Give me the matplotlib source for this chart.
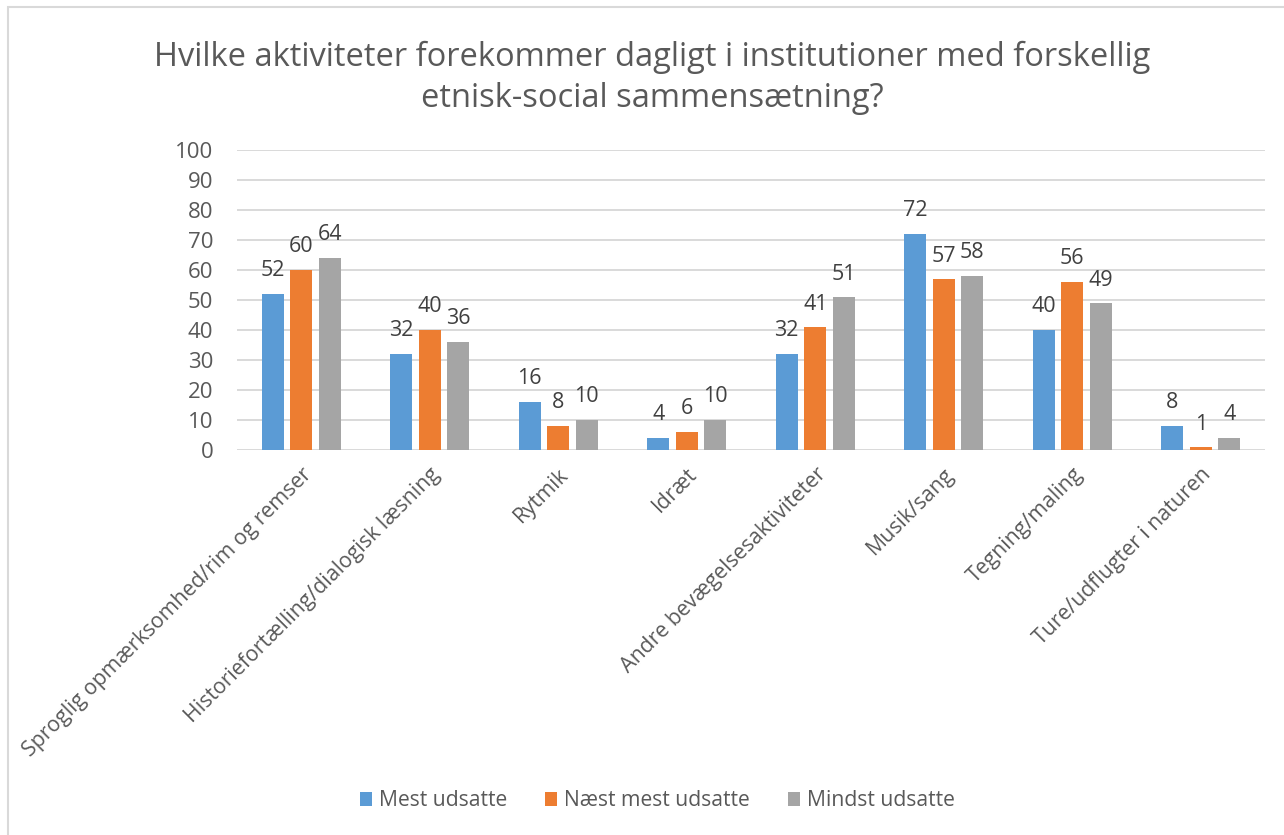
import matplotlib
matplotlib.use("Agg")
import matplotlib.pyplot as plt
import numpy as np
from matplotlib.patches import Rectangle

categories = ["Sproglig opmærksomhed/rim og remser", "Historiefortælling/dialogisk læsning",
              "Rytmik", "Idræt", "Andre bevægelsesaktiviteter", "Musik/sang",
              "Tegning/maling", "Ture/udflugter i naturen"]
series_names = ["Mest udsatte", "Næst mest udsatte", "Mindst udsatte"]
mest = [52, 32, 16, 4, 32, 72, 40, 8]
naest = [60, 40, 8, 6, 41, 57, 56, 1]
mindst = [64, 36, 10, 10, 51, 58, 49, 4]
colors = ["#5B9BD5", "#ED7D31", "#A5A5A5"]
yticks = list(range(0, 101, 10))

plt.rcParams['font.family'] = ['Open Sans', 'DejaVu Sans']
W, H = 1284, 835
fig = plt.figure(figsize=(W / 100, H / 100), dpi=100)
ax = fig.add_axes([237 / W, 1 - 450 / H, (1265 - 237) / W, 300 / H])

x = np.arange(len(categories))
width = 0.172
step = 0.222
txtc = "#595959"
for i, (vals, name, c) in enumerate(zip([mest, naest, mindst], series_names, colors)):
    pos = x + (i - 1) * step
    ax.bar(pos, vals, width=width, color=c, label=name, zorder=3)
    for xi, v in zip(pos, vals):
        ax.annotate(str(v), (xi, v), xytext=(0, 9), textcoords="offset points",
                    ha="center", va="bottom", fontsize=15.5, color="#404040")

ax.set_xlim(-0.5, len(categories) - 0.5)
ax.set_ylim(0, 100)
ax.set_yticks(yticks)
ax.yaxis.grid(True, color="#D9D9D9", linewidth=1.4, zorder=0)
for s in ax.spines.values():
    s.set_visible(False)
ax.tick_params(axis="y", length=0, pad=17, labelsize=16, labelcolor=txtc)
ax.tick_params(axis="x", length=0, pad=10, labelsize=15.3, labelcolor=txtc)
ax.set_xticks(x)
ax.set_xticklabels(categories, rotation=45, ha="right", rotation_mode="anchor")

fig.text(652 / W, 1 - 78 / H, "Hvilke aktiviteter forekommer dagligt i institutioner med forskellig\netnisk-social sammensætning?",
         ha="center", va="center", fontsize=23.5, color=txtc, linespacing=1.35)

fig.legend(loc="center", bbox_to_anchor=(657 / W, 1 - 801 / H), ncol=3, frameon=False,
           fontsize=15.2, labelcolor=txtc, handlelength=0.6, handleheight=0.6,
           handletextpad=0.3, columnspacing=1.8)

fig.patches.append(Rectangle((8 / W, -0.01), 1.1, 1 - 7 / H + 0.01, transform=fig.transFigure,
                             fill=False, edgecolor="#D9D9D9", linewidth=1.5))

fig.savefig("out.png", dpi=100)
